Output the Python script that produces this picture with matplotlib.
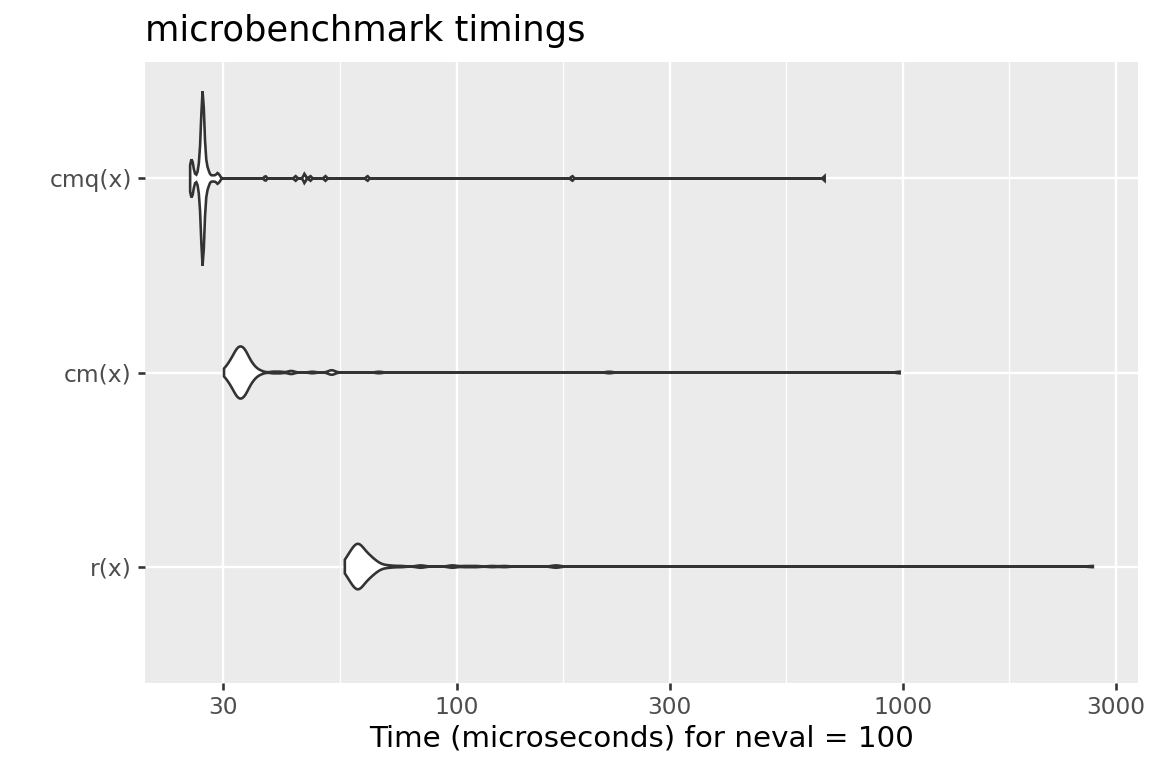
import matplotlib.pyplot as plt
from matplotlib.ticker import NullFormatter
import numpy as np

# microbenchmark timings (microseconds) and how many of the 100 evaluations hit each value
cmq_us = [25.27, 25.40, 25.53, 25.66, 25.79, 26.00, 26.27, 26.41, 26.55, 26.68, 26.82, 26.96,
          27.10, 27.24, 27.38, 27.52, 27.67, 27.81, 27.95, 28.24, 28.54, 28.83, 29.13, 29.44,
          37.26, 43.55, 45.60, 47.00, 50.80, 63.10, 181.6, 668.0]
cmq_n = [3, 3, 4, 2, 1, 1, 1, 2, 3, 6, 12, 20,
         12, 6, 3, 2, 2, 1, 1, 1, 1, 1, 2, 1,
         1, 1, 2, 1, 1, 1, 1, 1]

cm_us = [30.10, 30.57, 31.04, 31.53, 32.02, 32.35, 32.69, 33.04, 33.37, 33.72, 34.07, 34.60,
         35.14, 35.88, 36.62, 38.80, 40.20, 42.57, 47.50, 52.20, 52.60, 66.96, 219.8, 984.0]
cm_n = [2, 3, 6, 8, 10, 8, 9, 9, 8, 7, 7, 5,
        4, 2, 1, 1, 1, 2, 1, 1, 2, 1, 1, 1]

r_us = [56.15, 56.73, 57.32, 57.92, 58.52, 59.13, 59.74, 60.05, 60.36, 60.99, 61.62, 62.26,
        62.91, 63.56, 64.22, 64.89, 65.90, 66.93, 68.33, 69.76, 71.59,
        75.0, 83.06, 97.84, 104.8, 110.4, 120.0, 128.0, 166.9, 2667.0]
r_n = [2, 4, 4, 5, 6, 8, 8, 1, 8, 8, 6, 5,
       4, 4, 4, 3, 3, 2, 1, 1, 1,
       1, 2, 2, 1, 1, 1, 1, 2, 1]

exprs = ["r(x)", "cm(x)", "cmq(x)"]
x_breaks = [30, 100, 300, 1000, 3000]

samples = [np.repeat(r_us, r_n), np.repeat(cm_us, cm_n), np.repeat(cmq_us, cmq_n)]


def log_density(v, n=512):
    # gaussian kde on log10 scale, bandwidth like R's bw.nrd0, trimmed to data range
    z = np.log10(v)
    q1, q3 = np.percentile(z, [25, 75])
    bw = 0.9 * min(z.std(ddof=1), (q3 - q1) / 1.34) * len(z) ** -0.2
    grid = np.linspace(z.min(), z.max(), n)
    d = np.exp(-0.5 * ((grid[:, None] - z[None, :]) / bw) ** 2).sum(axis=1)
    d /= len(z) * bw * np.sqrt(2 * np.pi)
    return grid, d


dens = [log_density(s) for s in samples]
dmax = max(d.max() for _, d in dens)

fig = plt.figure(figsize=(8, 16 / 3), dpi=144)
ax = fig.add_axes([145 / 1152, 1 - 683 / 768, (1138 - 145) / 1152, (683 - 62) / 768])
ax.set_facecolor("#EBEBEB")

for pos, (grid, d) in enumerate(dens, start=1):
    half = 0.45 * d / dmax
    xs = 10 ** grid
    ax.fill(np.concatenate([xs, xs[::-1]]),
            np.concatenate([pos + half, (pos - half)[::-1]]),
            facecolor="white", edgecolor="#333333", lw=1.3, zorder=3)

ax.set_xscale("log")
allz = np.log10(np.concatenate(samples))
lo, hi = allz.min(), allz.max()
pad = 0.05 * (hi - lo)
ax.set_xlim(10 ** (lo - pad), 10 ** (hi + pad))
ax.set_ylim(0.4, 3.6)

ax.set_xticks(x_breaks)
ax.set_xticklabels([str(b) for b in x_breaks])
lb = np.log10(x_breaks)
ax.set_xticks(10 ** ((lb[:-1] + lb[1:]) / 2), minor=True)
ax.xaxis.set_minor_formatter(NullFormatter())
ax.set_yticks([1, 2, 3])
ax.set_yticklabels(exprs)

ax.grid(True, which="major", color="white", lw=1.2)
ax.grid(True, which="minor", axis="x", color="white", lw=0.6)
ax.set_axisbelow(True)
for s in ax.spines.values():
    s.set_visible(False)

ax.tick_params(which="major", length=3.67, width=1.3, color="#333333",
               labelcolor="#4D4D4D", labelsize=11.7, pad=2.93)
ax.tick_params(which="minor", length=0)

ax.set_xlabel("Time (microseconds) for neval = 100", fontsize=14.67, color="black", labelpad=2.7)
ax.set_title("microbenchmark timings", loc="left", fontsize=17.6, color="black", pad=10.3)

fig.savefig("out.png", dpi=144)
